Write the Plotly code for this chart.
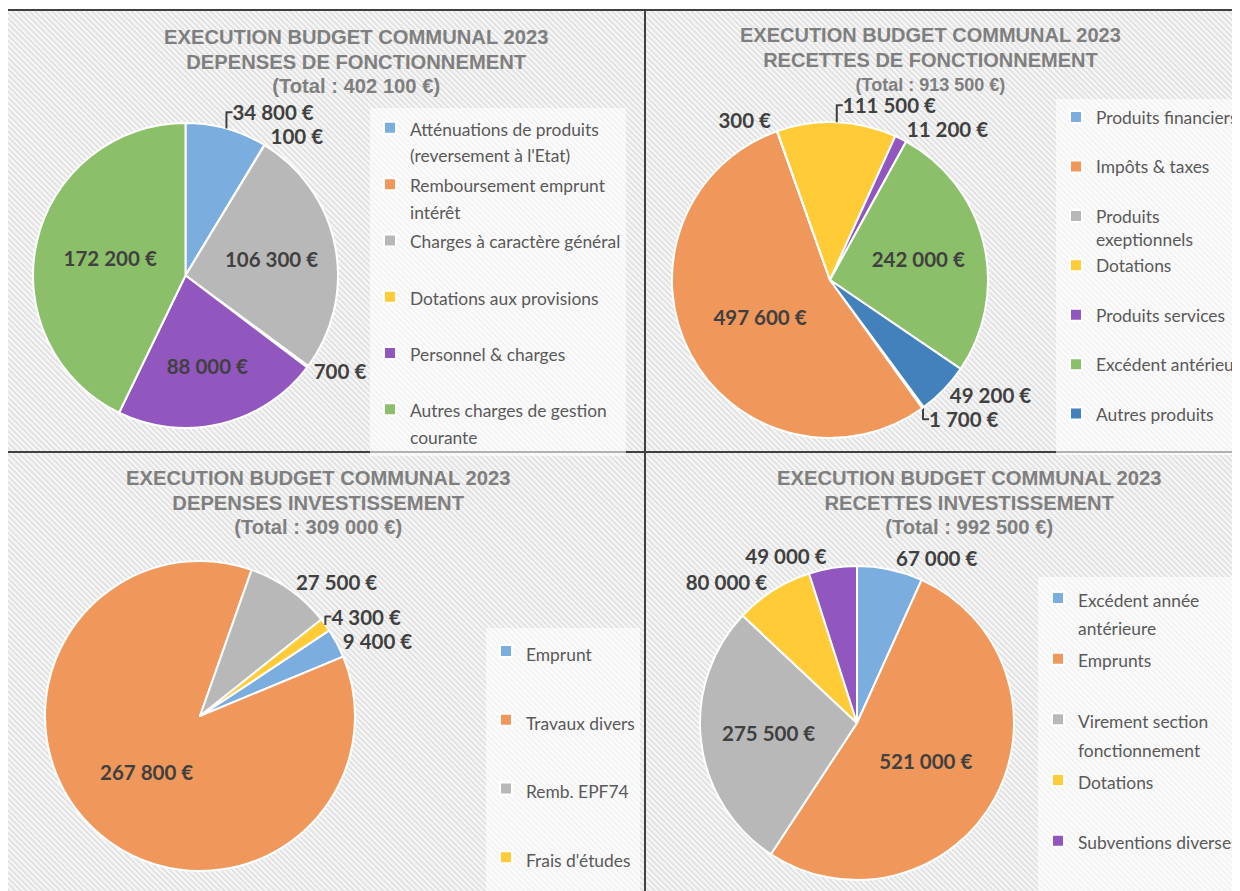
import base64
import plotly.graph_objects as go

W, H = 1240, 891
OFF = 8  # page body margin: screen = figure + 8px

# ---------------- DATA ----------------
p1_title = ["EXECUTION BUDGET COMMUNAL 2023", "DEPENSES DE FONCTIONNEMENT", "(Total : 402 100 €)"]
p1_labels = ["Atténuations de produits<br>(reversement à l'Etat)", "Remboursement emprunt<br>intérêt",
             "Charges à caractère général", "Dotations aux provisions", "Personnel & charges",
             "Autres charges de gestion<br>courante"]
p1_values = [34800, 100, 106300, 700, 88000, 172200]

p2_title = ["EXECUTION BUDGET COMMUNAL 2023", "RECETTES DE FONCTIONNEMENT", "(Total : 913 500 €)"]
p2_labels = ["Produits financiers", "Impôts & taxes", "Produits<br>exeptionnels", "Dotations",
             "Produits services", "Excédent antérieur", "Autres produits"]
p2_values = [1700, 497600, 300, 111500, 11200, 242000, 49200]

p3_title = ["EXECUTION BUDGET COMMUNAL 2023", "DEPENSES INVESTISSEMENT", "(Total : 309 000 €)"]
p3_labels = ["Emprunt", "Travaux divers", "Remb. EPF74", "Frais d'études"]
p3_values = [9400, 267800, 27500, 4300]

p4_title = ["EXECUTION BUDGET COMMUNAL 2023", "RECETTES INVESTISSEMENT", "(Total : 992 500 €)"]
p4_labels = ["Excédent année<br>antérieure", "Emprunts", "Virement section<br>fonctionnement", "Dotations",
             "Subventions diverses"]
p4_values = [67000, 521000, 275500, 80000, 49000]

# ---------------- STYLE ----------------
BLUE, ORANGE, GRAY, YELLOW, PURPLE, GREEN, DBLUE = (
    "#7badde", "#f0975b", "#b8b8b8", "#ffcb36", "#9256bf", "#8cbf6a", "#4381bd")

LABEL_FONT = dict(family="Lato", size=20.5, color="#404040", weight="bold")
LEG_COLOR = "#595959"
LEG_TEXT = 17.4


def px(x):
    return (x - OFF) / W


def py(y):
    return 1 - (y - OFF) / H


def legend_labels(labels, size=LEG_TEXT):
    out = []
    for lab in labels:
        lines = lab.split("<br>")
        if len(lines) == 1:
            lines.append("\u00a0")
        out.append("<br>".join(f"<span style='font-size:{size}px'>{l}</span>" for l in lines))
    return out


def title_text(lines, sizes):
    return "<br>".join(f"<span style='font-size:{s}px'>{l}</span>" for l, s in zip(lines, sizes))


def dom(cx, cy, r):
    return dict(x=[px(cx - r), px(cx + r)], y=[py(cy + r), py(cy - r)])


panels = [
    dict(labels=p1_labels, values=p1_values, colors=[BLUE, ORANGE, GRAY, YELLOW, PURPLE, GREEN],
         pos=["outside", "outside", "inside", "outside", "inside", "inside"],
         rot=0, dom=dom(185.5, 275.5, 152.5), legend="legend"),
    dict(labels=p2_labels, values=p2_values, colors=[BLUE, ORANGE, GRAY, YELLOW, PURPLE, GREEN, DBLUE],
         pos=["outside", "inside", "outside", "outside", "outside", "inside", "outside"],
         rot=143.6, dom=dom(830, 280, 158), legend="legend2"),
    dict(labels=p3_labels, values=p3_values, colors=[BLUE, ORANGE, GRAY, YELLOW],
         pos=["outside", "inside", "outside", "outside"],
         rot=56.5, dom=dom(200, 716, 155), legend="legend3"),
    dict(labels=p4_labels, values=p4_values, colors=[BLUE, ORANGE, GRAY, YELLOW, PURPLE],
         pos=["outside", "inside", "inside", "outside", "outside"],
         rot=0, dom=dom(857, 723, 157), legend="legend4"),
]

fig = go.Figure()
for i, p in enumerate(panels):
    fig.add_trace(go.Pie(
        labels=legend_labels(p["labels"]), values=p["values"], sort=False, direction="clockwise",
        rotation=p["rot"], domain=p["dom"], legend=p["legend"], legendgroup=f"g{i}",
        marker=dict(colors=p["colors"], line=dict(color="white", width=2)),
        texttemplate="%{value:,.0f} €", textposition=p["pos"],
        insidetextorientation="horizontal", textfont=LABEL_FONT,
        insidetextfont=LABEL_FONT, outsidetextfont=LABEL_FONT,
        hoverinfo="label+value", showlegend=True,
    ))

# hatch background
BW, BH = W, H
svg = (f'<svg xmlns="http://www.w3.org/2000/svg" width="{BW}" height="{BH}">'
       '<defs><pattern id="p" width="4" height="4" patternUnits="userSpaceOnUse" patternTransform="rotate(-45)">'
       '<rect width="4" height="4" fill="#e2e2e2"/><rect width="2" height="4" fill="#f7f7f7"/></pattern></defs>'
       f'<rect width="{BW}" height="{BH}" fill="url(#p)"/></svg>')
src = "data:image/svg+xml;base64," + base64.b64encode(svg.encode()).decode()

TITLE_FONT = dict(family="Liberation Sans", size=18.85, color="#7f7f7f", weight="bold")
titles = [
    (p1_title, [20.2, 20.2, 20.2], 356, 24),
    (p2_title, [20.0, 20.0, 18.0], 930, 22),
    (p3_title, [20.2, 20.2, 20.2], 318, 465),
    (p4_title, [20.2, 20.2, 20.2], 969, 465),
]
annotations = [dict(text=title_text(t, s), x=px(x), y=py(y), xref="paper", yref="paper",
                    xanchor="center", yanchor="top", showarrow=False, font=TITLE_FONT)
               for t, s, x, y in titles]

LC = "#404040"


def hline(y, x0, x1):
    return dict(type="line", xref="paper", yref="paper", x0=px(x0), x1=px(x1), y0=py(y), y1=py(y),
                line=dict(color=LC, width=2))


def vline(x, y0, y1):
    return dict(type="line", xref="paper", yref="paper", x0=px(x), x1=px(x), y0=py(y0), y1=py(y1),
                line=dict(color=LC, width=2))


shapes = [hline(10, 6, 1260), vline(6.5, 10, 910), vline(645, 10, 910), hline(452, 6, 1260)]


def leg(x, y, size):
    return dict(x=px(x), y=py(y), xanchor="left", yanchor="top", valign="top",
                bgcolor="rgba(255,255,255,0.6)", borderwidth=0,
                font=dict(family="Lato", size=size, color=LEG_COLOR), itemclick=False)


fig.update_layout(
    width=W, height=H, margin=dict(l=0, r=0, t=0, b=0, autoexpand=False),
    paper_bgcolor="white", plot_bgcolor="white", separators=", ",
    images=[dict(source=src, xref="paper", yref="paper", x=px(7), y=py(10),
                 sizex=BW / W, sizey=BH / H, xanchor="left", yanchor="top", sizing="stretch", layer="below")],
    annotations=annotations, shapes=shapes,
    legend=leg(370, 108, 20.5),
    legend2=leg(1056, 99, 17.85),
    legend3=leg(486, 628, 25.3),
    legend4=leg(1038, 577, 22.2),
)

fig.write_html("out.html")
